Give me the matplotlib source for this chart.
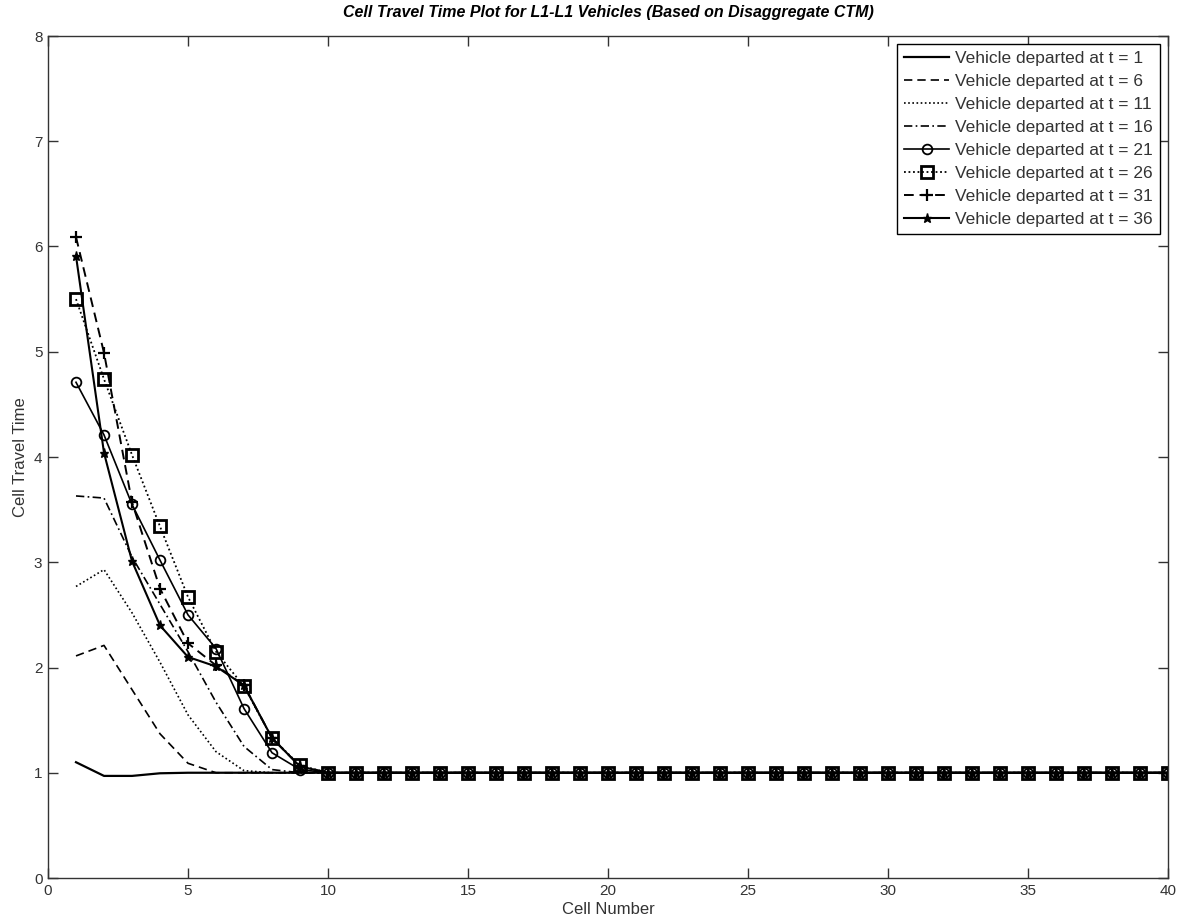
import numpy as np
import matplotlib
matplotlib.use("Agg")
import matplotlib.pyplot as plt

plt.rcParams['font.family'] = ['Liberation Sans', 'DejaVu Sans']

cells = list(range(1, 41))

# Travel times for the first cells; all remaining cells have travel time 1
head_t1 = [1.10, 0.97, 0.97, 0.995, 1.0]
head_t6 = [2.11, 2.21, 1.79, 1.37, 1.09, 1.0]
head_t11 = [2.77, 2.93, 2.52, 2.05, 1.55, 1.20, 1.02, 1.0]
head_t16 = [3.63, 3.61, 3.05, 2.60, 2.15, 1.67, 1.25, 1.03, 1.0]
head_t21 = [4.71, 4.21, 3.55, 3.02, 2.50, 2.18, 1.61, 1.19, 1.03, 1.0]
head_t26 = [5.50, 4.74, 4.02, 3.34, 2.67, 2.15, 1.82, 1.33, 1.07, 1.0]
head_t31 = [6.09, 4.99, 3.57, 2.75, 2.23, 2.02, 1.83, 1.33, 1.06, 1.0]
head_t36 = [5.91, 4.04, 3.01, 2.40, 2.10, 2.01, 1.83, 1.33, 1.06, 1.0]

heads = [head_t1, head_t6, head_t11, head_t16, head_t21, head_t26, head_t31, head_t36]
labels = ['Vehicle departed at t = 1', 'Vehicle departed at t = 6',
          'Vehicle departed at t = 11', 'Vehicle departed at t = 16',
          'Vehicle departed at t = 21', 'Vehicle departed at t = 26',
          'Vehicle departed at t = 31', 'Vehicle departed at t = 36']

styles = [
    dict(ls='-', marker=None, lw=1.6),
    dict(ls=(0, (5, 3)), marker=None, lw=1.2),
    dict(ls=(0, (1, 1.5)), marker=None, lw=1.2),
    dict(ls=(0, (5, 2, 1, 2)), marker=None, lw=1.2),
    dict(ls='-', marker='o', lw=1.2, ms=7, mfc='none', mew=1.3),
    dict(ls=(0, (1, 1.5)), marker='s', lw=1.3, ms=8, mfc='none', mew=2.0),
    dict(ls=(0, (5, 3)), marker='+', lw=1.4, ms=9, mew=1.6),
    dict(ls='-', marker='*', lw=1.5, ms=6.5, mew=1.0),
]

fig = plt.figure(figsize=(11.79, 9.22), dpi=100)
ax = fig.add_axes([48/1179, 44/922, 1120/1179, 842/922])

for head, lab, st in zip(heads, labels, styles):
    y = head + [1.0] * (len(cells) - len(head))
    kw = dict(color='black', linestyle=st['ls'], linewidth=st['lw'], label=lab)
    if st['marker']:
        kw.update(marker=st['marker'], markersize=st['ms'], markeredgewidth=st['mew'],
                  markeredgecolor='black')
        if 'mfc' in st:
            kw['markerfacecolor'] = st['mfc']
        else:
            kw['markerfacecolor'] = 'black'
    ax.plot(cells, y, **kw)

ax.set_xlim(0, 40)
ax.set_ylim(0, 8)
ax.set_xticks(range(0, 41, 5))
ax.set_yticks(range(0, 9))
ax.tick_params(direction='in', length=7, width=1, top=True, right=True,
               labelsize=11, colors='#333333', pad=4)
for s in ax.spines.values():
    s.set_color('#333333')
    s.set_linewidth(1)

ax.set_xlabel('Cell Number', fontsize=12, color='#333333', labelpad=3)
ax.set_ylabel('Cell Travel Time', fontsize=12, color='#333333', labelpad=4)
ax.set_title('Cell Travel Time Plot for L1-L1 Vehicles (Based on Disaggregate CTM)',
             fontsize=11.5, fontweight='bold', fontstyle='italic', pad=14)

leg = ax.legend(loc='upper right', fontsize=12.5, handlelength=2.6, handletextpad=0.35,
                borderpad=0.4, labelspacing=0.45, fancybox=False, framealpha=1,
                edgecolor='black', borderaxespad=0.45)
for t in leg.get_texts():
    t.set_color('#333333')
leg.get_frame().set_linewidth(1)

fig.savefig('out.png', dpi=100)
